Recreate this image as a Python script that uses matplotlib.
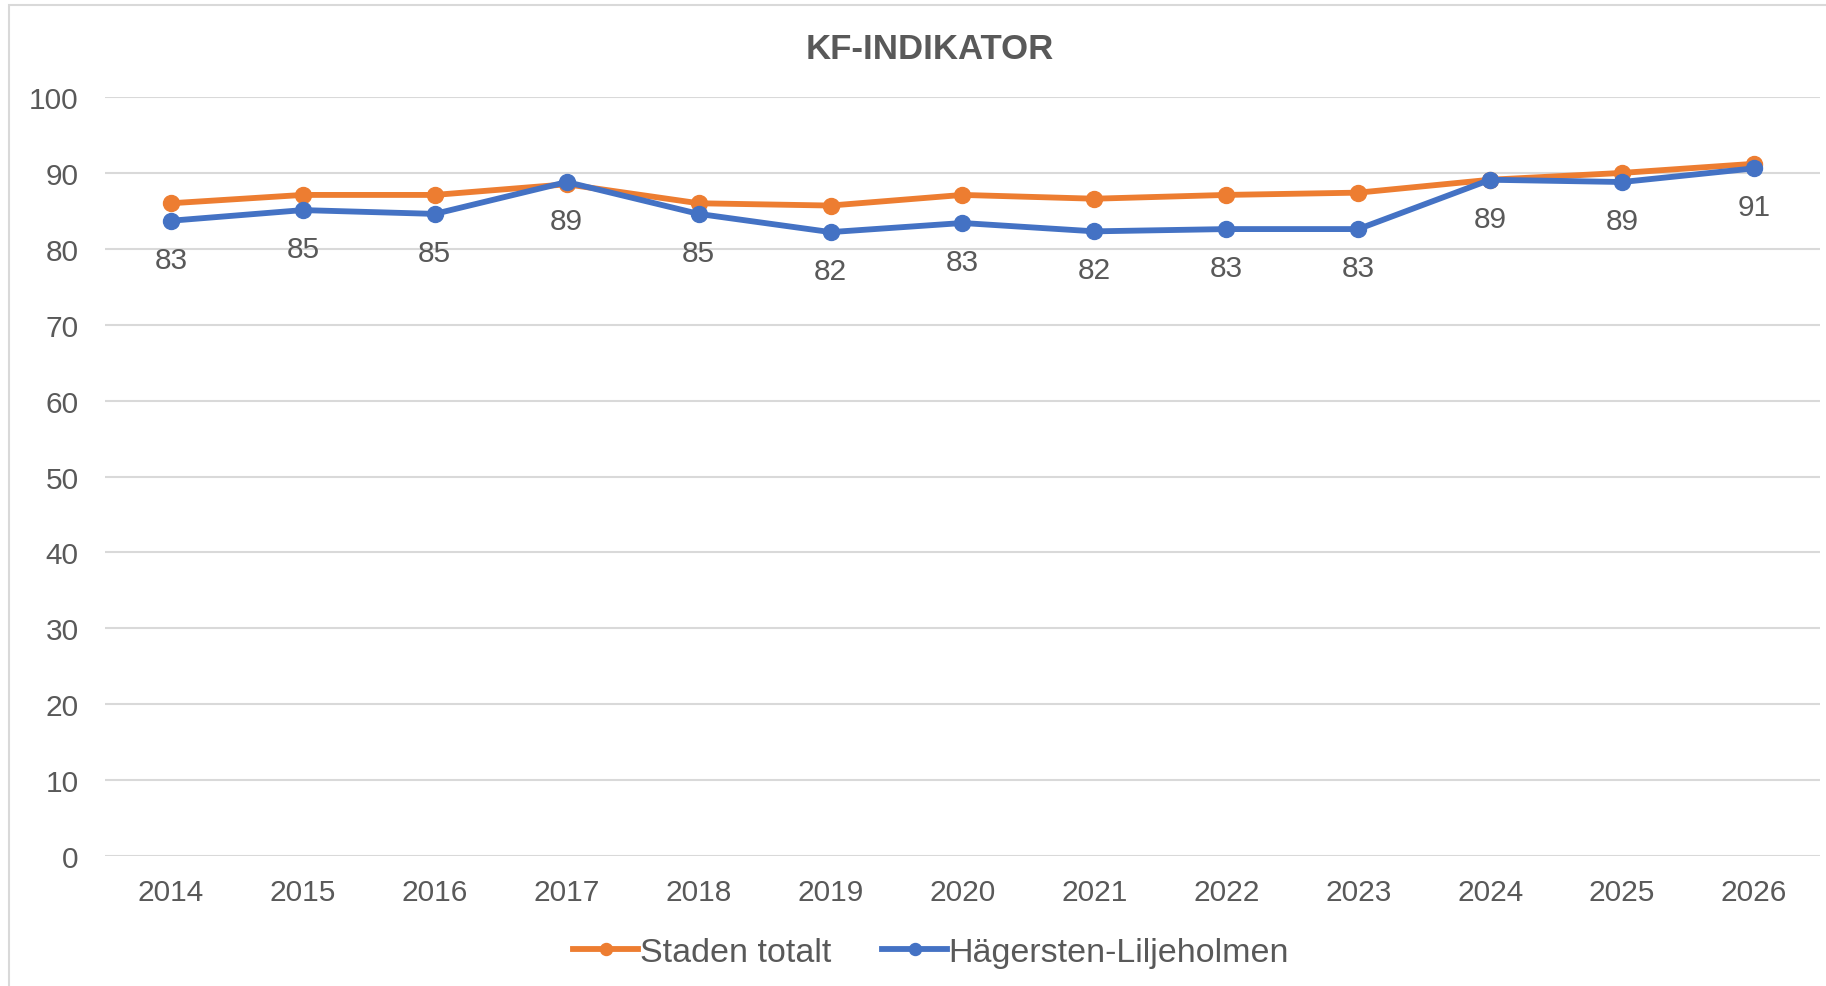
import matplotlib
matplotlib.use("Agg")

import matplotlib.pyplot as plt
from matplotlib.patches import Rectangle

plt.rcParams["font.family"] = ["Liberation Sans", "DejaVu Sans"]

years = ["2014", "2015", "2016", "2017", "2018", "2019", "2020",
         "2021", "2022", "2023", "2024", "2025", "2026"]
staden = [86.0, 87.1, 87.1, 88.5, 86.0, 85.7, 87.1, 86.6, 87.1, 87.4, 89.1, 90.0, 91.2]
hagersten = [83.7, 85.1, 84.6, 88.8, 84.6, 82.2, 83.4, 82.3, 82.6, 82.6, 89.1, 88.8, 90.6]
hagersten_labels = ["83", "85", "85", "89", "85", "82", "83", "82", "83", "83", "89", "89", "91"]

ORANGE = "#ED7D31"
BLUE = "#4472C4"
TEXT = "#595959"
GRID = "#D9D9D9"

fig = plt.figure(figsize=(18.26, 9.87), dpi=100)
ax = fig.add_axes([0.0575, 0.1317, 0.9392, 0.769])

# chart frame (cut off on right and bottom like the screenshot)
fig.patches.append(Rectangle((9 / 1826, -0.05), 1.2, 0.05 + 981 / 987,
                             transform=fig.transFigure, fill=False,
                             edgecolor=GRID, linewidth=1.5))

x = list(range(len(years)))
ax.plot(x, staden, color=ORANGE, lw=4.2, marker="o", ms=11.5, label="Staden totalt", zorder=3)
ax.plot(x, hagersten, color=BLUE, lw=4.2, marker="o", ms=11.5, label="Hägersten-Liljeholmen", zorder=4)

for xi, yi, lab in zip(x, hagersten, hagersten_labels):
    ax.annotate(lab, (xi, yi), xytext=(0, -28), textcoords="offset points",
                ha="center", va="center", fontsize=21.5, color=TEXT)

ax.set_xlim(-0.5, len(years) - 0.5)
ax.set_ylim(0, 100)
ax.set_yticks(range(0, 101, 10))
ax.set_xticks(x)
ax.set_xticklabels(years)
ax.grid(axis="y", color=GRID, lw=1.5)
ax.set_axisbelow(True)
for s in ax.spines.values():
    s.set_visible(False)
ax.tick_params(axis="both", length=0, labelsize=21.5, labelcolor=TEXT)
ax.tick_params(axis="y", pad=19)
ax.tick_params(axis="x", pad=16)

fig.text(0.509, 0.95, "KF-INDIKATOR", ha="center", va="center",
         fontsize=25, fontweight="bold", color=TEXT)

fig.legend(loc="center", bbox_to_anchor=(0.51, 0.034), ncol=2, frameon=False,
           fontsize=24.5, labelcolor=TEXT, handlelength=1.9, handletextpad=0.05,
           columnspacing=1.5, markerscale=0.75)

fig.savefig("out.png", dpi=100)
